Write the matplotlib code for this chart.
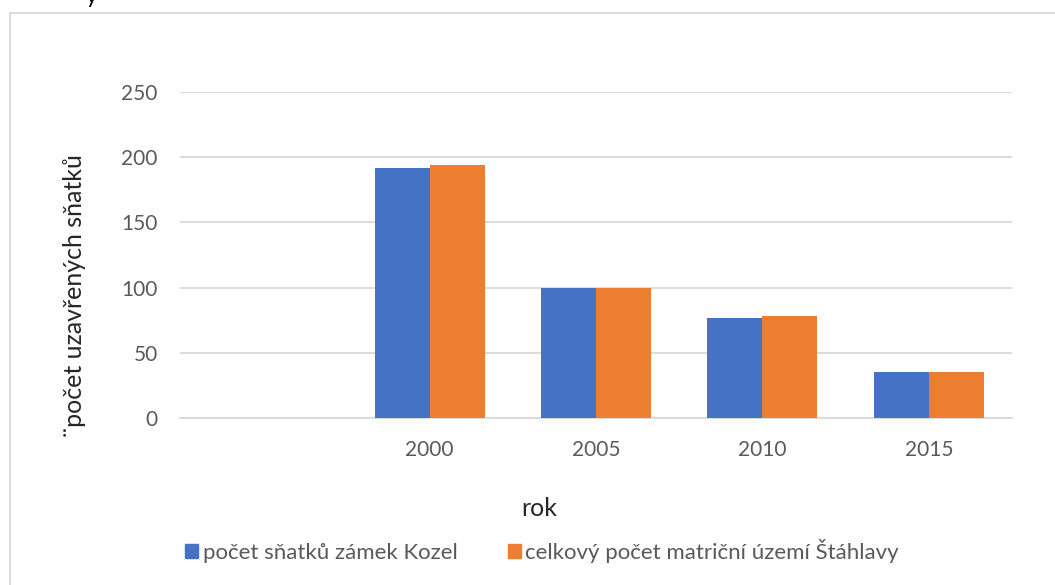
import numpy as np
import matplotlib.pyplot as plt
from matplotlib.lines import Line2D
from matplotlib.patches import Patch

plt.rcParams['font.family'] = ['Lato', 'DejaVu Sans']
plt.rcParams['font.size'] = 15

years = ['', '2000', '2005', '2010', '2015']
kozel = [np.nan, 192, 100, 77, 35]
stahlavy = [np.nan, 194, 100, 78, 35]
yticks = [0, 50, 100, 150, 200, 250]

c_blue = '#4472C4'
c_orange = '#ED7D31'
grey_txt = '#595959'
grid_col = '#d9d9d9'

W, H = 1055, 585
fig = plt.figure(figsize=(W / 100, H / 100), dpi=100)
ax = fig.add_axes([180 / W, (H - 418) / H, (1012 - 180) / W, (418 - 92) / H])

x = np.arange(len(years))
bw = 0.33
ax.bar(x - bw / 2, kozel, bw, color=c_blue, zorder=3)
ax.bar(x + bw / 2, stahlavy, bw, color=c_orange, zorder=3)

ax.set_xlim(-0.5, len(years) - 0.5)
ax.set_ylim(0, 250)
ax.set_yticks(yticks)
ax.set_xticks(x)
ax.set_xticklabels(years)
ax.grid(axis='y', color=grid_col, linewidth=1.3, zorder=0)
for s in ['top', 'right', 'left']:
    ax.spines[s].set_visible(False)
ax.spines['bottom'].set_color(grid_col)
ax.spines['bottom'].set_linewidth(1.3)
ax.tick_params(length=0, colors=grey_txt, labelsize=15)
ax.tick_params(axis='y', pad=16)
ax.tick_params(axis='x', pad=16)

fig.text(75 / W, 1 - 296 / H, '¨počet uzavřených sňatků', rotation=90,
         ha='center', va='center', fontsize=18, color='#262626')
fig.text(539 / W, 1 - 508 / H, 'rok', ha='center', va='center',
         fontsize=18, color='#262626')

# cut-off title fragment at the top edge
fig.text(86 / W, 1 - 3 / H, 'y', ha='left', va='baseline', fontsize=16, color='black')

# chart area border (extends past right/bottom edges)
fig.add_artist(Line2D([9.5 / W, 1.0], [1 - 13 / H, 1 - 13 / H], color=grid_col, lw=1.3))
fig.add_artist(Line2D([9.5 / W, 9.5 / W], [1 - 13 / H, 0], color=grid_col, lw=1.3))

handles = [Patch(color=c_blue), Patch(color=c_orange)]
labels = ['počet sňatků zámek Kozel', 'celkový počet matriční území Štáhlavy']
fig.legend(handles, labels, loc='center', bbox_to_anchor=(542 / W, 1 - 551 / H),
           ncol=2, frameon=False, handlelength=0.6, handleheight=0.6,
           handletextpad=0.2, columnspacing=2.25, fontsize=16, labelcolor=grey_txt)

fig.savefig('out.png', dpi=100)
